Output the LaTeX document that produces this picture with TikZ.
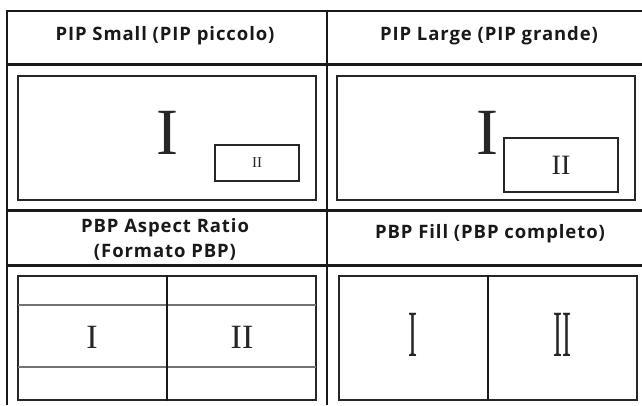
\documentclass[tikz,border=0pt]{standalone}
\usepackage{fontspec}
\newfontfamily\headfont{Open Sans}[LetterSpace=5]
\newfontfamily\numfont{Liberation Serif}
\begin{document}
\begin{tikzpicture}[x=1pt, y=-1pt]
    \tikzstyle{tableline}=[line width=2.5pt, draw=black!90]
    \tikzstyle{screenbox}=[draw=black!85, line width=1.2pt, minimum width=298pt, minimum height=124pt, inner sep=0pt]
    \tikzstyle{insetbox}=[draw=black!85, line width=1.2pt, inner sep=0pt, fill=white]
    \tikzstyle{headtext}=[font=\headfont\bfseries\fontsize{18.5}{25}\selectfont, align=center, text=black!90]
    \tikzstyle{numtext}=[font=\numfont, text=black!85, inner sep=0pt]

    \useasboundingbox (0,0) rectangle (642,405);

    % table frame
    \draw[tableline] (7,11) -- (642,11);
    \draw[tableline] (7,64.5) -- (642,64.5);
    \draw[tableline] (7,210.5) -- (642,210.5);
    \draw[tableline] (7,265.5) -- (642,265.5);
    \draw[tableline] (7,9.8) -- (7,405);
    \draw[tableline] (327,9.8) -- (327,405);

    % headers
    \node[headtext] (hPipS) at (165,36) {PIP Small (PIP piccolo)};
    \node[headtext] (hPipL) at (489,36) {PIP Large (PIP grande)};
    \node[headtext] (hPbpA) at (165,239) {PBP Aspect Ratio\\(Formato PBP)};
    \node[headtext] (hPbpF) at (490,234) {PBP Fill (PBP completo)};

    % PIP small
    \node[screenbox] (pipS) at (167,138) {};
    \node[insetbox, minimum width=84pt, minimum height=36pt] (pipSin) at (257,163) {};
    \node[numtext, font=\numfont\fontsize{66}{66}\selectfont] (pipSa) at (167,133) {I};
    \node[numtext, font=\numfont\fontsize{15}{15}\selectfont] (pipSb) at (pipSin) {II};

    % PIP large
    \node[screenbox] (pipL) at (486,138) {};
    \node[numtext, font=\numfont\fontsize{66}{66}\selectfont] (pipLa) at (487,133) {I};
    \node[insetbox, minimum width=114pt, minimum height=54pt] (pipLin) at (561,165) {};
    \node[numtext, font=\numfont\fontsize{28}{28}\selectfont] (pipLb) at (pipLin) {II};

    % PBP aspect ratio
    \node[screenbox] (pbpA) at (167,338) {};
    \draw[black!55, line width=1.2pt] (18,305) -- (316,305);
    \draw[black!55, line width=1.2pt] (18,367) -- (316,367);
    \draw[black!90, line width=1.2pt] (pbpA.north) -- (pbpA.south);
    \node[numtext, font=\numfont\fontsize{34}{34}\selectfont] (pbpAa) at (92,337) {I};
    \node[numtext, font=\numfont\fontsize{34}{34}\selectfont] (pbpAb) at (242,337) {II};

    % PBP fill
    \node[screenbox] (pbpF) at (488,338) {};
    \draw[black!90, line width=1.2pt] (pbpF.north) -- (pbpF.south);
    \node[numtext, font=\numfont\fontsize{30}{30}\selectfont] (pbpFa) at (413,335) {\scalebox{0.9}[2.2]{I}};
    \node[numtext, font=\numfont\fontsize{30}{30}\selectfont] (pbpFb) at (562,335) {\scalebox{0.9}[2.2]{II}};
\end{tikzpicture}
\end{document}
